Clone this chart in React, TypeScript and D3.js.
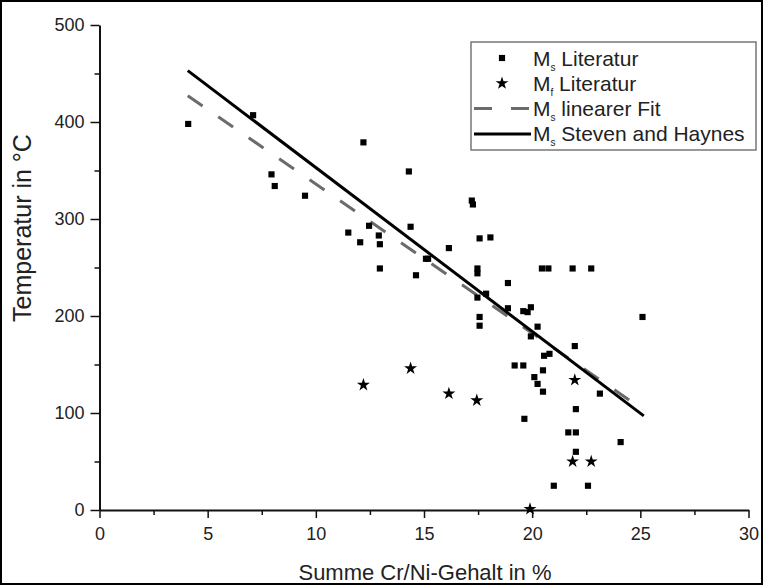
import * as d3 from 'd3';
import React, { useEffect, useRef } from 'react';

// Ms (Literatur) points: [Cr+Ni sum in %, temperature in °C]
const msLiteratur: [number, number][] = [
  [4.1, 398], [7.1, 407], [7.95, 346], [8.1, 334], [9.5, 324],
  [11.5, 286], [12.2, 379], [14.3, 349], [17.21, 319], [17.26, 315],
  [12.46, 293], [12.91, 283], [12.05, 276], [12.96, 274], [14.38, 292],
  [17.57, 280], [18.07, 281], [16.15, 270], [15.09, 259], [15.19, 259],
  [12.96, 249], [14.63, 242], [17.47, 249], [17.47, 244], [20.45, 249],
  [20.75, 249], [21.87, 249], [22.73, 249], [18.88, 234], [17.47, 219],
  [17.87, 223], [18.88, 208], [19.59, 205], [19.79, 204], [19.94, 209],
  [17.57, 199], [17.57, 190], [20.25, 189], [19.94, 179], [21.97, 169],
  [20.55, 159], [20.8, 161], [19.19, 149], [19.59, 149], [20.5, 144],
  [20.1, 137], [20.25, 130], [20.5, 122], [23.13, 120], [22.02, 104],
  [19.64, 94], [21.67, 80], [22.02, 80], [22.02, 60], [21.0, 25],
  [22.58, 25], [25.1, 199], [24.09, 70],
];

// Mf (Literatur) points
const mfLiteratur: [number, number][] = [
  [12.2, 129], [14.38, 146], [16.15, 120], [17.44, 113],
  [21.97, 134], [21.87, 50], [22.73, 50], [19.9, 1],
];

// line end points
const linearFit: [number, number][] = [[4.08, 427], [25.1, 104]];
const stevenHaynes: [number, number][] = [[4.08, 453], [25.16, 97]];

const xTicks = [0, 5, 10, 15, 20, 25, 30];
const xMinorTicks = [2.5, 7.5, 12.5, 17.5, 22.5, 27.5];
const yTicks = [0, 100, 200, 300, 400, 500];
const yMinorTicks = [50, 150, 250, 350, 450];

const legendItems = [
  { sub: 's', label: 'Literatur', kind: 'square' },
  { sub: 'f', label: 'Literatur', kind: 'star' },
  { sub: 's', label: 'linearer Fit', kind: 'dash' },
  { sub: 's', label: 'Steven and Haynes', kind: 'solid' },
];

const FONT = '"Liberation Sans", Arial, Helvetica, sans-serif';

const App: React.FC = () => {
  const svgRef = useRef<SVGSVGElement>(null);
  const width = 763;
  const height = 585;

  useEffect(() => {
    if (!svgRef.current) return;
    const svg = d3.select(svgRef.current);
    svg.selectAll('*').remove();

    const x = d3.scaleLinear().domain([0, 30]).range([99.5, 748.5]);
    const y = d3.scaleLinear().domain([0, 500]).range([510, 25]);

    // background + outer frame
    svg.append('rect')
      .attr('x', 1).attr('y', 1)
      .attr('width', width - 2).attr('height', height - 2)
      .attr('fill', 'white')
      .attr('stroke', '#000')
      .attr('stroke-width', 2);

    // minor ticks
    svg.append('g')
      .attr('transform', `translate(0, ${y(0)})`)
      .call(d3.axisBottom(x).tickValues(xMinorTicks).tickSize(5).tickSizeOuter(0).tickFormat(() => ''))
      .call(g => g.select('.domain').remove())
      .selectAll('line').attr('stroke', '#111').attr('stroke-width', 1.5);

    svg.append('g')
      .attr('transform', `translate(${x(0)}, 0)`)
      .call(d3.axisLeft(y).tickValues(yMinorTicks).tickSize(5).tickSizeOuter(0).tickFormat(() => ''))
      .call(g => g.select('.domain').remove())
      .selectAll('line').attr('stroke', '#111').attr('stroke-width', 1.5);

    // x axis
    const xg = svg.append('g')
      .attr('transform', `translate(0, ${y(0)})`)
      .call(d3.axisBottom(x).tickValues(xTicks).tickSize(8).tickSizeOuter(0).tickPadding(9));
    xg.select('.domain').attr('stroke', '#111').attr('stroke-width', 2);
    xg.selectAll('line').attr('stroke', '#111').attr('stroke-width', 1.5);
    xg.selectAll('text')
      .style('font-size', '18px')
      .style('font-family', FONT)
      .attr('fill', '#222');

    // y axis
    const yg = svg.append('g')
      .attr('transform', `translate(${x(0)}, 0)`)
      .call(d3.axisLeft(y).tickValues(yTicks).tickSize(9).tickSizeOuter(0).tickPadding(6));
    yg.select('.domain').attr('stroke', '#111').attr('stroke-width', 2);
    yg.selectAll('line').attr('stroke', '#111').attr('stroke-width', 1.5);
    yg.selectAll('text')
      .style('font-size', '18px')
      .style('font-family', FONT)
      .attr('fill', '#222');

    // axis titles
    svg.append('text')
      .attr('x', 425)
      .attr('y', 580)
      .attr('text-anchor', 'middle')
      .style('font-size', '22px')
      .style('font-family', FONT)
      .attr('fill', '#222')
      .text('Summe Cr/Ni-Gehalt in %');

    svg.append('text')
      .attr('transform', `translate(31, 228) rotate(-90)`)
      .attr('text-anchor', 'middle')
      .style('font-size', '25px')
      .style('font-family', FONT)
      .attr('fill', '#222')
      .text('Temperatur in °C');

    const line = d3.line<[number, number]>()
      .x(d => x(d[0]))
      .y(d => y(d[1]));

    // linear fit (dashed gray)
    svg.append('path')
      .datum(linearFit)
      .attr('d', line)
      .attr('fill', 'none')
      .attr('stroke', '#6b6b6b')
      .attr('stroke-width', 3)
      .attr('stroke-dasharray', '18,19');

    // Steven and Haynes (solid black)
    svg.append('path')
      .datum(stevenHaynes)
      .attr('d', line)
      .attr('fill', 'none')
      .attr('stroke', '#000')
      .attr('stroke-width', 3);

    const square = d3.symbol(d3.symbolSquare, 38);
    const star = d3.symbol(d3.symbolStar, 52);

    svg.append('g')
      .selectAll('path')
      .data(msLiteratur)
      .join('path')
      .attr('transform', d => `translate(${x(d[0])}, ${y(d[1])})`)
      .attr('d', square())
      .attr('fill', '#000');

    svg.append('g')
      .selectAll('path')
      .data(mfLiteratur)
      .join('path')
      .attr('transform', d => `translate(${x(d[0])}, ${y(d[1])})`)
      .attr('d', star())
      .attr('fill', '#000');

    // legend
    const legend = svg.append('g');
    legend.append('rect')
      .attr('x', 471).attr('y', 42)
      .attr('width', 285).attr('height', 108)
      .attr('fill', 'white')
      .attr('stroke', '#777')
      .attr('stroke-width', 1.5);

    legendItems.forEach((item, i) => {
      const cy = 58 + i * 25.3;
      const row = legend.append('g');
      if (item.kind === 'square') {
        row.append('path').attr('transform', `translate(502, ${cy})`).attr('d', square()).attr('fill', '#000');
      } else if (item.kind === 'star') {
        row.append('path').attr('transform', `translate(502, ${cy})`).attr('d', star()).attr('fill', '#000');
      } else {
        row.append('line')
          .attr('x1', 474).attr('x2', 531)
          .attr('y1', cy).attr('y2', cy)
          .attr('stroke', item.kind === 'dash' ? '#6b6b6b' : '#000')
          .attr('stroke-width', 3)
          .attr('stroke-dasharray', item.kind === 'dash' ? '18,19' : null);
      }
      const t = row.append('text')
        .attr('x', 533)
        .attr('y', cy + 7.5)
        .style('font-size', '21px')
        .style('font-family', FONT)
        .attr('fill', '#222');
      t.append('tspan').text('M');
      t.append('tspan').attr('dy', 5).style('font-size', '10px').text(item.sub);
      t.append('tspan').attr('dy', -5).text(' ' + item.label);
    });
  }, []);

  return (
    <svg
      ref={svgRef}
      width={width}
      height={height}
      style={{ position: 'absolute', left: 0, top: 0, display: 'block' }}
    />
  );
};

export default App;
